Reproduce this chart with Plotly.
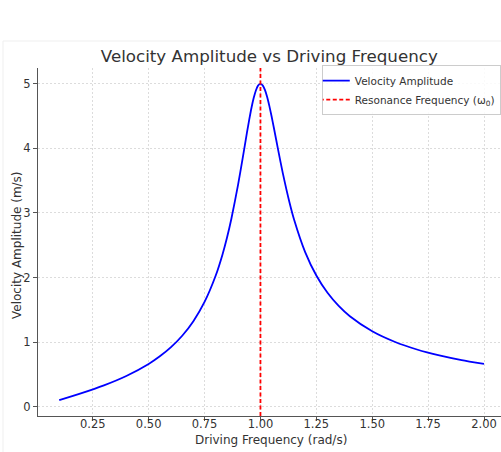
import plotly.graph_objects as go

omega = [0.10, 0.20, 0.30, 0.40, 0.50, 0.55, 0.60, 0.65, 0.70, 0.75, 0.80, 0.83, 0.85, 0.87,
         0.90, 0.92, 0.94, 0.95, 0.96, 0.97, 0.98, 0.99, 1.00, 1.01, 1.02, 1.03, 1.04, 1.05,
         1.06, 1.08, 1.10, 1.13, 1.15, 1.20, 1.25, 1.30, 1.35, 1.40, 1.50, 1.60, 1.70, 1.80,
         1.90, 2.00]
velocity = [0.101, 0.208, 0.329, 0.474, 0.661, 0.779, 0.921, 1.098, 1.324, 1.622, 2.031, 2.354,
            2.612, 2.910, 3.439, 3.838, 4.251, 4.448, 4.629, 4.783, 4.901, 4.975, 5.000, 4.975,
            4.905, 4.795, 4.655, 4.493, 4.320, 3.961, 3.617, 3.162, 2.903, 2.394, 2.031, 1.763,
            1.560, 1.400, 1.167, 1.005, 0.885, 0.793, 0.720, 0.661]
resonance = 1.0
x_ticks = [0.25, 0.50, 0.75, 1.00, 1.25, 1.50, 1.75, 2.00]
y_ticks = [0, 1, 2, 3, 4, 5]

fig = go.Figure()
fig.add_trace(go.Scatter(x=omega, y=velocity, mode="lines", name="Velocity Amplitude",
                         line=dict(color="#0000ff", width=1.8, shape="spline", smoothing=0.6)))
fig.add_trace(go.Scatter(x=[resonance, resonance], y=[-0.145, 5.245], mode="lines",
                         name="Resonance Frequency (ω<sub>0</sub>)",
                         line=dict(color="#ff0000", width=1.8, dash="4px,2.5px")))

axis_common = dict(showgrid=True, gridcolor="#dcdcdc", griddash="2px,2px", gridwidth=1,
                   showline=True, linecolor="#555555", linewidth=1.2,
                   ticks="outside", ticklen=4, tickcolor="#555555",
                   tickfont=dict(family="DejaVu Sans", size=11.5, color="#333333"),
                   zeroline=False)

fig.update_layout(
    width=501, height=452,
    margin=dict(l=38, r=0, t=68, b=36),
    paper_bgcolor="white", plot_bgcolor="white",
    title=dict(text="Velocity Amplitude vs Driving Frequency", x=0.5375, xanchor="center",
               y=1 - 56 / 452, yanchor="middle",
               font=dict(family="DejaVu Sans", size=16.7, color="#333333")),
    xaxis=dict(range=[0.005, 2.076], tickvals=x_ticks, ticktext=[f"{v:.2f}" for v in x_ticks],
               ticklabelstandoff=-7, **axis_common),
    yaxis=dict(range=[-0.145, 5.245], tickvals=y_ticks, ticklabelstandoff=0,
               **axis_common),
    legend=dict(x=0.9995, xanchor="right", y=1.008, yanchor="top",
                bgcolor="rgba(255,255,255,0.85)", bordercolor="#cccccc", borderwidth=1,
                font=dict(family="DejaVu Sans", size=10.5, color="#333333"),
                tracegroupgap=0, itemwidth=30, indentation=-8),
    showlegend=True,
)

fig.add_annotation(text="Driving Frequency (rad/s)", xref="paper", yref="paper",
                   x=(271 - 38) / 463, y=(416 - 440) / 348, xanchor="center", yanchor="middle",
                   showarrow=False, font=dict(family="DejaVu Sans", size=12, color="#333333"))
fig.add_annotation(text="Velocity Amplitude (m/s)", xref="paper", yref="paper",
                   x=(17 - 38) / 463, y=(416 - 245) / 348, xanchor="center", yanchor="middle",
                   textangle=-90, showarrow=False,
                   font=dict(family="DejaVu Sans", size=12, color="#333333"))

fig.add_shape(type="rect", xref="paper", yref="paper",
              x0=(3 - 38) / 463, x1=1.2, y0=-0.2, y1=(416 - 41) / 348,
              line=dict(color="#efefef", width=1), layer="below")

fig.write_html("out.html")
